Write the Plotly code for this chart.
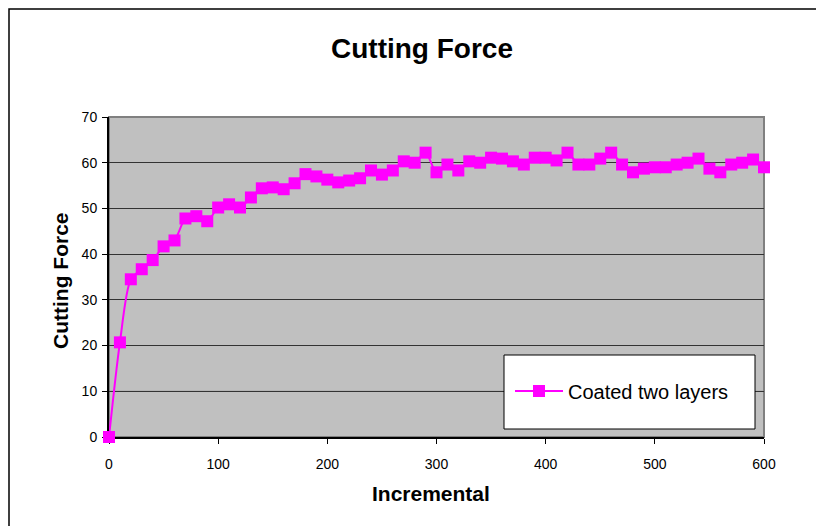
import plotly.graph_objects as go

# Cutting force recorded at each increment
increments = list(range(0, 601, 10))
cutting_force = [
    0.0, 20.7, 34.5, 36.7, 38.7, 41.7, 43.0, 47.8, 48.3, 47.2,
    50.2, 50.9, 50.2, 52.4, 54.4, 54.6, 54.2, 55.5, 57.5, 57.0,
    56.3, 55.7, 56.1, 56.6, 58.3, 57.4, 58.3, 60.3, 60.0, 62.2,
    57.9, 59.6, 58.3, 60.3, 60.0, 61.1, 60.9, 60.3, 59.6, 61.1,
    61.1, 60.5, 62.2, 59.6, 59.6, 60.9, 62.2, 59.6, 57.9, 58.7,
    59.0, 59.0, 59.6, 60.0, 60.9, 58.7, 57.9, 59.6, 60.0, 60.7,
    59.0,
]
series_name = "Coated two layers"
x_ticks = [0, 100, 200, 300, 400, 500, 600]
y_ticks = [0, 10, 20, 30, 40, 50, 60, 70]

FONT = "Liberation Sans, Arial, sans-serif"
W, H = 819, 529
M_L, M_R, M_T, M_B = 109, 55, 117, 92
PW, PH = W - M_L - M_R, H - M_T - M_B


def px_x(px):
    """Pixel column -> paper x."""
    return (px - M_L) / PW


def px_y(py):
    """Pixel row -> paper y."""
    return (H - M_B - py) / PH


fig = go.Figure()
fig.add_trace(go.Scatter(
    x=increments,
    y=cutting_force,
    mode="lines+markers",
    name=series_name,
    line=dict(color="#FF00FF", width=2, shape="spline", smoothing=0.8),
    marker=dict(symbol="square", size=12, color="#FF00FF", line=dict(width=0)),
    cliponaxis=False,
))

# outer chart frame: top and left edges, drawn as one open path in page pixels
fx0, fy0 = px_x(9), px_y(9)
fx1, fy1 = px_x(W - 3), px_y(H - 3)
frame_path = f"M {fx1},{fy0} L {fx0},{fy0} L {fx0},{fy1}"

shapes = [
    dict(type="path", xref="paper", yref="paper", path=frame_path,
         line=dict(color="black", width=1.5), layer="below"),
    # plot-area frame
    dict(type="rect", xref="paper", yref="paper", x0=0, x1=1, y0=0, y1=1,
         line=dict(color="#808080", width=2), layer="between"),
    # lighter first gridline
    dict(type="line", xref="paper", yref="y", x0=0, x1=1, y0=10, y1=10,
         line=dict(color="#8a8a8a", width=1), layer="between"),
    # legend box
    dict(type="rect", xref="paper", yref="paper",
         x0=px_x(504), x1=px_x(755), y0=px_y(429), y1=px_y(355),
         line=dict(color="black", width=1), fillcolor="white", layer="above"),
]

annotations = [
    dict(text="<b>Cutting Force</b>", xref="paper", yref="paper",
         x=px_x(60), y=px_y(281), textangle=-90, showarrow=False,
         font=dict(family=FONT, size=21, color="black"),
         xanchor="center", yanchor="middle"),
    dict(text="<b>Incremental</b>", xref="paper", yref="paper",
         x=px_x(431), y=px_y(493), showarrow=False,
         font=dict(family=FONT, size=21, color="black"),
         xanchor="center", yanchor="middle"),
]

fig.update_layout(
    width=W, height=H,
    margin=dict(l=M_L, r=M_R, t=M_T, b=M_B, pad=0),
    paper_bgcolor="white",
    plot_bgcolor="#C0C0C0",
    title=dict(text="<b>Cutting Force</b>", x=422 / W, y=1 - 48 / H,
               xanchor="center", yanchor="middle",
               font=dict(family=FONT, size=28, color="black")),
    font=dict(family=FONT, color="black"),
    showlegend=True,
    legend=dict(x=px_x(510), y=px_y(391), xanchor="left", yanchor="middle",
                bgcolor="rgba(0,0,0,0)", borderwidth=0,
                font=dict(family=FONT, size=20, color="black"),
                itemwidth=48, itemsizing="trace"),
    shapes=shapes,
    annotations=annotations,
)

fig.update_xaxes(
    range=[0, 600], tickvals=x_ticks, ticktext=[str(v) for v in x_ticks],
    showgrid=False, zeroline=False,
    showline=True, linecolor="black", linewidth=2,
    ticks="outside", ticklen=5, tickcolor="black", tickwidth=1,
    ticklabelstandoff=8,
    tickfont=dict(family=FONT, size=14, color="black"),
    layer="below traces",
)
fig.update_yaxes(
    range=[0, 70], tickvals=y_ticks, ticktext=[str(v) for v in y_ticks],
    showgrid=True, gridcolor="#333333", gridwidth=1, zeroline=False,
    showline=True, linecolor="black", linewidth=2,
    ticks="outside", ticklen=5, tickcolor="black", tickwidth=1,
    ticklabelstandoff=2,
    tickfont=dict(family=FONT, size=14, color="black"),
    layer="below traces",
)

fig.write_html("out.html")
